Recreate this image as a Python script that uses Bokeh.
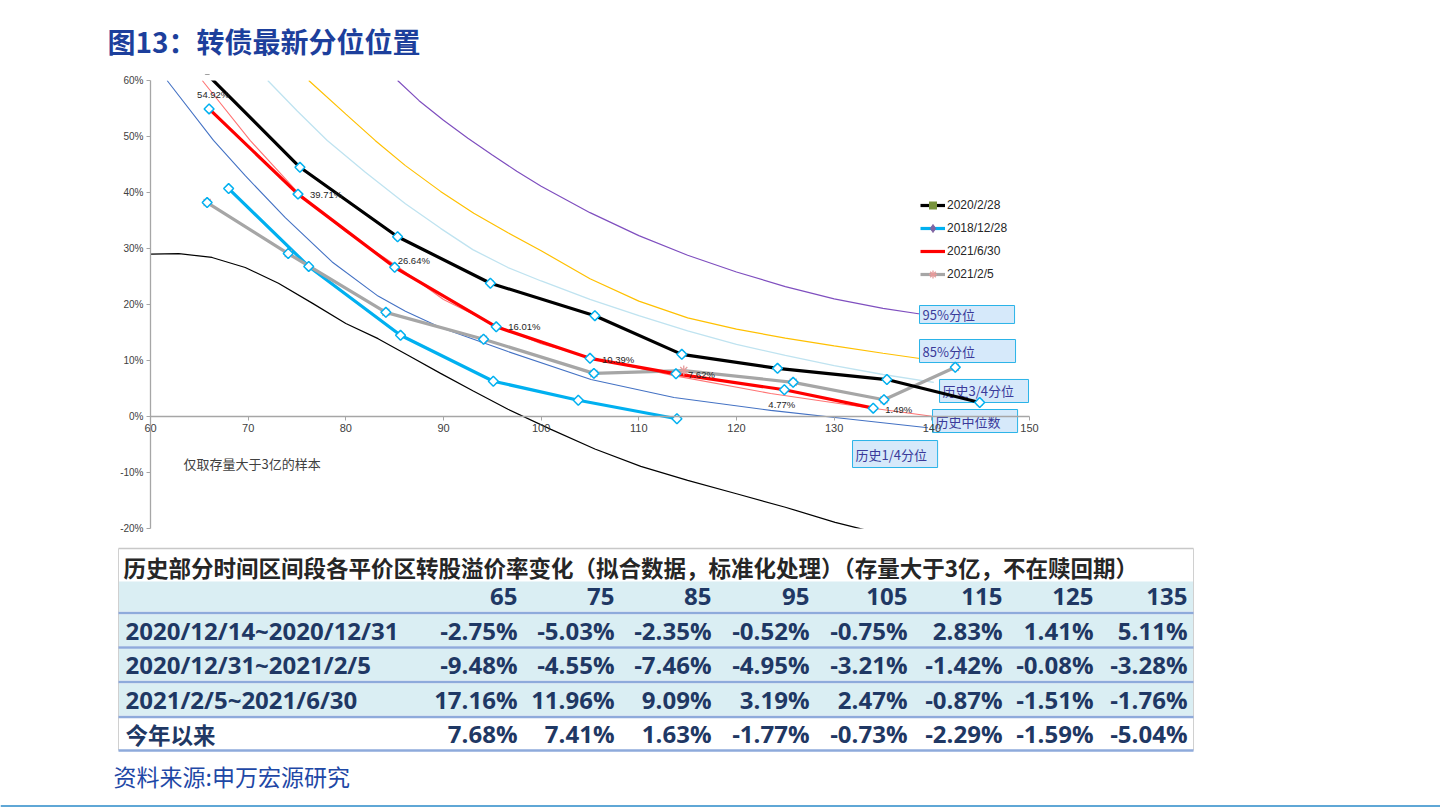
import numpy as np
from bokeh.plotting import figure
from bokeh.layouts import column
from bokeh.models import Range1d, FixedTicker, Legend, LegendItem, ColumnDataSource, LinearAxis
from bokeh.core.properties import value
from bokeh.embed import file_html
from bokeh.resources import INLINE

# ---------------- data ----------------
title_text = "图13：转债最新分位位置"
note_text = "仅取存量大于3亿的样本"
source_text = "资料来源:申万宏源研究"

x_ticks = [60, 70, 80, 90, 100, 110, 120, 130, 140, 150]
y_ticks = [-20, -10, 0, 10, 20, 30, 40, 50, 60]
y_tick_labels = ["-20%", "-10%", "0%", "10%", "20%", "30%", "40%", "50%", "60%"]

series_names = ["2020/2/28", "2018/12/28", "2021/6/30", "2021/2/5"]

s_20200228_x = [65.0, 75.3, 85.3, 94.8, 105.5, 114.4, 124.2, 135.4, 144.9]
s_20200228_y = [62.5, 44.5, 32.1, 23.8, 18.0, 11.1, 8.6, 6.6, 2.5]

s_20181228_x = [68.0, 76.2, 85.6, 95.1, 103.8, 113.9]
s_20181228_y = [40.7, 26.8, 14.5, 6.3, 2.9, -0.4]

s_20210630_x = [66.0, 75.1, 85.0, 95.4, 105.0, 113.8, 124.9, 134.0]
s_20210630_y = [54.92, 39.71, 26.64, 16.01, 10.39, 7.62, 4.77, 1.49]

s_20210205_x = [65.8, 74.1, 84.1, 94.1, 105.4, 114.6, 125.8, 135.1, 142.4]
s_20210205_y = [38.2, 29.1, 18.6, 13.8, 7.7, 8.2, 6.1, 3.0, 8.8]

# historical percentile curves
pct_names = ["95%分位", "85%分位", "历史3/4分位", "历史中位数", "历史1/4分位"]

p95_x = [85.3, 87.5, 90, 92.5, 95, 97.5, 100, 105, 110, 115, 120, 125, 130, 135, 138.8]
p95_y = [60.0, 56.4, 52.9, 49.7, 46.7, 43.8, 41.1, 36.4, 32.3, 28.8, 25.8, 23.2, 21.0, 19.3, 18.3]

p85_x = [76.2, 80, 83, 86.1, 89.7, 93.1, 96.6, 100, 105, 110, 115, 120, 125, 130, 135, 140.2]
p85_y = [60.0, 54.0, 49.3, 44.8, 40.2, 36.3, 32.8, 29.6, 24.6, 20.6, 17.6, 15.6, 14.0, 12.6, 11.3, 10.0]

p75_x = [72.0, 75.0, 78.1, 82.0, 86.1, 89.7, 93.0, 96.6, 100, 105, 110, 115, 120, 125, 130, 135, 140.2]
p75_y = [60.0, 54.6, 49.3, 43.6, 38.0, 33.6, 29.8, 26.6, 24.2, 20.9, 18.0, 15.3, 12.9, 10.9, 9.1, 7.5, 6.1]

p50_x = [65.3, 70.2, 75.2, 80.0, 85.1, 90.0, 95.3, 100.0, 105.1, 113.6, 123.5, 131.7, 140.2]
p50_y = [60.0, 49.3, 39.8, 33.0, 27.0, 20.9, 16.3, 13.0, 10.5, 7.3, 4.1, 2.0, 0.0]

p25_x = [61.7, 66.45, 69.7, 73.8, 78.6, 83.3, 86.1, 89.7, 96.6, 105.1, 113.6, 123.5, 131.7, 139.6]
p25_y = [60.0, 49.3, 43.0, 35.5, 27.6, 21.5, 18.8, 15.9, 11.6, 6.6, 3.4, 1.1, -0.5, -2.0]

p05_x = [60.0, 62.9, 66.3, 69.7, 73.1, 76.6, 80.0, 83.3, 86.5, 89.7, 93.0, 96.6, 101.0, 105.5, 110.2, 115.0, 120.0, 125.0, 130.1, 134.0]
p05_y = [29.0, 29.1, 28.4, 26.6, 23.8, 20.2, 16.6, 13.9, 10.8, 7.7, 4.6, 1.3, -2.3, -5.8, -8.9, -11.4, -13.8, -16.2, -18.9, -20.6]

# table
table_title = "历史部分时间区间段各平价区转股溢价率变化（拟合数据，标准化处理）（存量大于3亿，不在赎回期）"
table_bins = [65, 75, 85, 95, 105, 115, 125, 135]
table_periods = ["2020/12/14~2020/12/31", "2020/12/31~2021/2/5", "2021/2/5~2021/6/30", "今年以来"]
row_1214_1231 = [-2.75, -5.03, -2.35, -0.52, -0.75, 2.83, 1.41, 5.11]
row_1231_0205 = [-9.48, -4.55, -7.46, -4.95, -3.21, -1.42, -0.08, -3.28]
row_0205_0630 = [17.16, 11.96, 9.09, 3.19, 2.47, -0.87, -1.51, -1.76]
row_ytd = [7.68, 7.41, 1.63, -1.77, -0.73, -2.29, -1.59, -5.04]
table_rows = [row_1214_1231, row_1231_0205, row_0205_0630, row_ytd]

# ---------------- style / layout ----------------
W = 1440
LAT = "Liberation Sans"
CJK = "Noto Sans CJK SC"
NUM = "Open Sans"
BLUE_T = "#1D3F9C"
NAVY = "#1F3864"


def unalign(f):
    try:
        f.frame_align = False
    except Exception:
        pass
    return f


def blank(h, top, bottom):
    f = figure(width=W, height=h, x_range=Range1d(0, W), y_range=Range1d(bottom, top),
               output_backend="svg", toolbar_location=None, x_axis_type=None, y_axis_type=None,
               min_border=0, outline_line_color=None)
    return unalign(f)


# ---- title ----
pt = blank(64, 0, 64)
pt.text(x=[107], y=[40], text=[title_text], text_font=value(CJK), text_font_style="bold",
        text_font_size="28px", text_color=BLUE_T, text_align="left", text_baseline="middle")

# ---- chart ----
KX = 879 / 90.0      # px per x unit
KY = 448 / 80.0      # px per y unit
FL, FR, FT, FB = 116, 1050, 74, 534   # frame edges (page px)
x_lo = 60 - (150 - FL) / KX
x_hi = 150 + (FR - 1029) / KX
y_hi = 60 + (80 - FT) / KY
y_lo = -20 - (FB - 528) / KY

p = figure(width=W, height=476, x_range=Range1d(x_lo, x_hi), y_range=Range1d(y_lo, y_hi),
           output_backend="svg", toolbar_location=None, x_axis_type=None, y_axis_type=None,
           min_border_left=FL, min_border_right=W - FR, min_border_top=FT - 64,
           min_border_bottom=540 - FB, outline_line_color=None)
unalign(p)

xax = LinearAxis(fixed_location=0, bounds=(60, 150), ticker=FixedTicker(ticks=x_ticks))
yax = LinearAxis(fixed_location=60, bounds=(-20, 60), ticker=FixedTicker(ticks=y_ticks),
                 major_label_overrides={t: l for t, l in zip(y_ticks, y_tick_labels)})
for ax in (xax, yax):
    ax.axis_line_color = "#A6A6A6"
    ax.axis_line_width = 1.3
    ax.major_tick_line_color = "#A6A6A6"
    ax.major_tick_in = 0
    ax.major_tick_out = 4
    ax.minor_tick_line_color = None
    ax.major_label_standoff = 3
    ax.major_label_text_font = LAT
    ax.major_label_text_color = "#404040"
xax.major_label_text_font_size = "11px"
yax.major_label_text_font_size = "10px"
p.add_layout(xax, "below")
p.add_layout(yax, "left")

# percentile curves
p.line(p05_x, p05_y, line_color="#000000", line_width=1.2)
p.line(p25_x, p25_y, line_color="#4472C4", line_width=1.1)
p.line(p50_x, p50_y, line_color="#FF7373", line_width=1.1)
p.line(p75_x, p75_y, line_color="#BFE3F0", line_width=1.3)
p.line(p85_x, p85_y, line_color="#FFC000", line_width=1.2)
p.line(p95_x, p95_y, line_color="#7F4FBF", line_width=1.2)

# percentile label boxes (layout positions in data units)
box_left = [138.74, 138.74, 140.79, 140.07, 131.88]
box_right = [148.47, 148.57, 149.9, 148.78, 140.59]
box_top = [19.82, 13.75, 6.61, 1.25, -4.29]
box_bottom = [16.61, 9.64, 2.5, -2.86, -9.11]
p.quad(left=box_left, right=box_right, top=box_top, bottom=box_bottom,
       fill_color="#D6E9FA", line_color="#2AB3E8", line_width=1)
p.text(x=box_left, y=[(a + b) / 2 for a, b in zip(box_top, box_bottom)], text=pct_names,
       x_offset=3, text_font=value(CJK), text_font_size="13px", text_color="#3A3A9A",
       text_align="left", text_baseline="middle")

# thick series lines
r_blue = p.line(s_20181228_x, s_20181228_y, line_color="#00B0F0", line_width=3.2)
r_gray = p.line(s_20210205_x, s_20210205_y, line_color="#A6A6A6", line_width=3.2)
r_red = p.line(s_20210630_x, s_20210630_y, line_color="#FF0000", line_width=3.2)
r_black = p.line(s_20200228_x, s_20200228_y, line_color="#000000", line_width=3.2)

# series' own markers (mostly hidden under the diamond overlays)
m_black = p.scatter(s_20200228_x, s_20200228_y, marker="square", size=6, fill_color="#77933C", line_color=None)
m_blue = p.scatter(s_20181228_x, s_20181228_y, marker="diamond", size=8, fill_color="#8064A2", line_color="#8064A2")
m_gray = p.scatter(s_20210205_x, s_20210205_y, marker="asterisk", size=10, line_color="#E59A9A", line_width=1.3)

gx = [x for i, x in enumerate(s_20210205_x) if i != 5]
gy = [y for i, y in enumerate(s_20210205_y) if i != 5]
for xs, ys in ((s_20200228_x, s_20200228_y), (s_20181228_x, s_20181228_y),
               (s_20210630_x, s_20210630_y), (gx, gy)):
    p.scatter(xs, ys, marker="square", angle=np.pi / 4, size=7, fill_color="white",
              line_color="#00B0F0", line_width=1.5)

# white masks outside the plotting area (top and bottom strips)
p.quad(left=[60.4, 60.4], right=[x_hi, x_hi], bottom=[60, y_lo], top=[y_hi, -20],
       fill_color="white", line_color=None)

# red series data labels
lab_dx = [-12, 12, 3, 12, 12, 12, -16, 12]
lab_dy = [-14, 0, -7, 0, 1, 1, 15, 1]
p.text(x="x", y="y", text="t", x_offset="dx", y_offset="dy",
       source=ColumnDataSource(dict(x=s_20210630_x, y=s_20210630_y,
                                    t=[f"{v:.2f}%" for v in s_20210630_y],
                                    dx=lab_dx, dy=lab_dy)),
       text_font=value(LAT), text_font_size="9.5px", text_color="#262626",
       text_align="left", text_baseline="middle")

# note
p.text(x=[63.38], y=[-8.39], text=[note_text], text_font=value(CJK), text_font_size="13px",
       text_color="#404040", text_align="left", text_baseline="middle")

items = [
    LegendItem(label=series_names[0], renderers=[r_black, m_black]),
    LegendItem(label=series_names[1], renderers=[r_blue, m_blue]),
    LegendItem(label=series_names[2], renderers=[r_red]),
    LegendItem(label=series_names[3], renderers=[r_gray, m_gray]),
]
legend = Legend(items=items, location=(920 - FL, FB - 284), orientation="vertical", padding=0, margin=0,
                spacing=3, glyph_width=25, glyph_height=20, label_height=20, label_standoff=2,
                label_text_font=LAT, label_text_font_size="12px", label_text_color="#262626",
                border_line_color=None, background_fill_alpha=0)
p.add_layout(legend)

# ---- table ----
pb = blank(220, 540, 760)
TL, TR = 118, 1193
col_right = [517, 614, 711, 809, 907, 1002, 1093, 1187]
row_y = [630, 664, 698.5, 733]
pb.quad(left=[TL] * 4, right=[TR] * 4, top=[581, 614, 648, 683], bottom=[611, 645.5, 680, 715],
        fill_color="#DAEEF3", line_color=None)
pb.segment(x0=[TL], y0=[548], x1=[TR], y1=[548], line_color="#C8C8C8", line_width=1.5)
pb.segment(x0=[TL, TR], y0=[548, 548], x1=[TL, TR], y1=[750, 750], line_color="#D0D0D0", line_width=1)
pb.segment(x0=[TL] * 5, y0=[612.5, 647, 681.5, 716.5, 750], x1=[TR] * 5, y1=[612.5, 647, 681.5, 716.5, 750],
           line_color="#8EAADB", line_width=2.6)
pb.text(x=[123], y=[566], text=[table_title], text_font=value(CJK), text_font_style="bold",
        text_font_size="22.5px", text_color="#262626", text_align="left", text_baseline="middle")
pb.text(x=col_right, y=[596] * 8, text=[str(b) for b in table_bins], text_font=value(NUM),
        text_font_style="bold", text_font_size="24px", text_color=NAVY,
        text_align="right", text_baseline="middle")
for name, vals, yy in zip(table_periods, table_rows, row_y):
    is_cjk = any(ord(c) > 0x3000 for c in name)
    pb.text(x=[125], y=[yy], text=[name], text_font=value(CJK if is_cjk else NUM),
            text_font_style="bold", text_font_size="22.5px" if is_cjk else "24px",
            text_color=NAVY, text_align="left", text_baseline="middle")
    pb.text(x=col_right, y=[yy] * 8, text=[f"{v:.2f}%" for v in vals], text_font=value(NUM),
            text_font_style="bold", text_font_size="24px", text_color=NAVY,
            text_align="right", text_baseline="middle")

# ---- source ----
pc = blank(47, 760, 807)
pc.text(x=[113], y=[775], text=[source_text], text_font=value(CJK), text_font_size="23px",
        text_color="#1F48A6", text_align="left", text_baseline="middle")
pc.segment(x0=[0], y0=[805.5], x1=[W], y1=[805.5], line_color="#2A8AC8", line_width=1.5)

layout = column(pt, p, pb, pc, spacing=0)
open("out.html", "w").write(file_html(layout, INLINE))
